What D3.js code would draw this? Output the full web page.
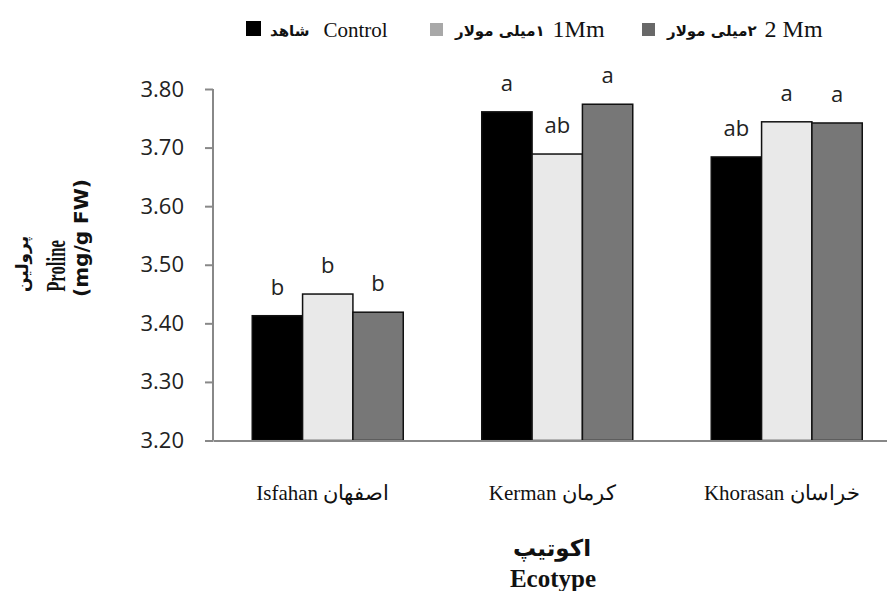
<!DOCTYPE html>
<html>
<head>
<meta charset="utf-8">
<title>Proline by ecotype</title>
<script src="https://cdn.jsdelivr.net/npm/d3@7"></script>
<style>
  html, body { margin: 0; padding: 0; background: #fff; }
  svg { display: block; }
</style>
</head>
<body>
<svg id="chart" width="887" height="591"></svg>
<script>
// data
var ecotypes = ['Isfahan', 'Kerman', 'Khorasan'];
var ecotypesFa = ['اصفهان', 'کرمان', 'خراسان'];
var series = ['control', 'mm1', 'mm2'];
var control = [3.413, 3.761, 3.684];
var mm1 = [3.450, 3.689, 3.744];
var mm2 = [3.419, 3.774, 3.742];
var letters = [['b', 'b', 'b'], ['a', 'ab', 'a'], ['ab', 'a', 'a']];
var yTicks = [3.20, 3.30, 3.40, 3.50, 3.60, 3.70, 3.80];

var fills = { control: '#000', mm1: '#e9e9e9', mm2: '#777' };
var legendFills = { control: '#000', mm1: '#a8a8a8', mm2: '#686868' };
var legendItems = [
  { key: 'control', fa: 'شاهد', en: 'Control' },
  { key: 'mm1', fa: '۱میلی مولار', en: '1Mm' },
  { key: 'mm2', fa: '۲میلی مولار', en: '2 Mm' }
];

var svg = d3.select('#chart');
// note: "top" is taken by window.top, so use other names
var plotLeft = 213, plotBottom = 440.5, plotTop = 89;
var step = 229.5;

var x = d3.scaleBand()
  .domain(ecotypes)
  .range([plotLeft, plotLeft + step * ecotypes.length])
  .paddingInner(0.342)
  .paddingOuter(0.171);

var xs = d3.scaleBand()
  .domain(series)
  .range([0, x.bandwidth()]);

var y = d3.scaleLinear()
  .domain([3.2, 3.8])
  .range([plotBottom, plotTop]);

var rows = ecotypes.map(function (e, i) {
  return { eco: e, vals: [control[i], mm1[i], mm2[i]] };
});

function cells(d, i) {
  return d.vals.map(function (v, j) { return { s: series[j], v: v, lab: letters[i][j] }; });
}

// bars
var groups = svg.selectAll('.grp')
  .data(rows)
  .enter().append('g')
  .attr('class', 'grp')
  .attr('transform', function (d) { return 'translate(' + x(d.eco) + ',0)'; });

groups.selectAll('rect')
  .data(cells)
  .enter().append('rect')
  .attr('x', function (d) { return xs(d.s); })
  .attr('y', function (d) { return y(d.v); })
  .attr('width', xs.bandwidth())
  .attr('height', function (d) { return plotBottom - y(d.v); })
  .attr('fill', function (d) { return fills[d.s]; })
  .attr('stroke', '#111')
  .attr('stroke-width', 1.5);

groups.selectAll('.lab')
  .data(cells)
  .enter().append('text')
  .attr('class', 'lab')
  .attr('x', function (d) { return xs(d.s) + xs.bandwidth() / 2; })
  .attr('y', function (d) { return y(d.v) - 21; })
  .attr('text-anchor', 'middle')
  .style('font-family', '"Open Sans", sans-serif')
  .style('font-size', '22px')
  .style('fill', '#222')
  .text(function (d) { return d.lab; });

// y axis
var yAxis = svg.append('g')
  .attr('transform', 'translate(' + plotLeft + ',0)')
  .call(d3.axisLeft(y).tickValues(yTicks).tickFormat(d3.format('.2f')).tickSize(8).tickPadding(21));
yAxis.select('.domain').attr('stroke', '#888').attr('stroke-width', 2).attr('d', 'M0,' + plotTop + 'V' + plotBottom);
yAxis.selectAll('.tick line').attr('stroke', '#888').attr('stroke-width', 2);
yAxis.selectAll('.tick text')
  .style('font-family', '"Open Sans", sans-serif')
  .style('font-size', '22px')
  .style('fill', '#222');

// x axis baseline
var xAxis = svg.append('g')
  .attr('transform', 'translate(0,' + plotBottom + ')')
  .call(d3.axisBottom(x).tickSize(0).tickFormat(''));
xAxis.select('.domain').attr('stroke', '#888').attr('stroke-width', 2);

// category labels
svg.selectAll('.cat')
  .data(ecotypes)
  .enter().append('text')
  .attr('class', 'cat')
  .attr('x', function (d) { return x(d) + x.bandwidth() / 2 - 5; })
  .attr('y', 500)
  .attr('text-anchor', 'middle')
  .style('font-family', '"Liberation Serif", serif')
  .style('font-size', '21px')
  .style('fill', '#111')
  .text(function (d, i) { return d + ' ' + ecotypesFa[i]; });

// x title
svg.append('text')
  .attr('x', 552).attr('y', 556)
  .attr('text-anchor', 'middle')
  .style('font-family', '"DejaVu Sans", sans-serif')
  .style('font-weight', 'bold')
  .style('font-size', '23px')
  .style('fill', '#111')
  .text('اکوتیپ');
svg.append('text')
  .attr('x', 553).attr('y', 587)
  .attr('text-anchor', 'middle')
  .style('font-family', '"Liberation Serif", serif')
  .style('font-weight', 'bold')
  .style('font-size', '25px')
  .style('fill', '#111')
  .text('Ecotype');

// y title, three rotated lines
svg.append('text')
  .attr('transform', 'translate(28,264) rotate(-90)')
  .attr('text-anchor', 'middle')
  .style('font-family', '"DejaVu Sans", sans-serif')
  .style('font-weight', 'bold')
  .style('font-size', '17px')
  .style('fill', '#111')
  .text('پرولین');
svg.append('text')
  .attr('transform', 'translate(65,266) rotate(-90) scale(0.62,1)')
  .attr('text-anchor', 'middle')
  .style('font-family', '"Liberation Serif", serif')
  .style('font-weight', 'bold')
  .style('font-size', '27px')
  .style('fill', '#111')
  .text('Proline');
svg.append('text')
  .attr('transform', 'translate(88,238) rotate(-90)')
  .attr('text-anchor', 'middle')
  .style('font-family', '"DejaVu Sans", sans-serif')
  .style('font-weight', 'bold')
  .style('font-size', '20px')
  .style('fill', '#111')
  .text('(mg/g FW)');

// legend: pieces laid out one after another
var legend = svg.append('g');
var starts = [246, 430, 642];
legendItems.forEach(function (it, i) {
  var cx = starts[i];
  var sz = i === 0 ? 15 : 13;
  legend.append('rect')
    .attr('x', cx).attr('y', 36 - sz)
    .attr('width', sz).attr('height', sz)
    .attr('fill', legendFills[it.key]);
  cx += sz + (i === 0 ? 9 : 12);
  var fa = legend.append('text')
    .attr('y', 36)
    .attr('direction', 'rtl')
    .attr('text-anchor', 'middle')
    .style('font-family', '"DejaVu Sans", sans-serif')
    .style('font-weight', 'bold')
    .style('font-size', '15px')
    .style('fill', '#111')
    .text(it.fa);
  var w = fa.node().getComputedTextLength();
  fa.attr('x', cx + w / 2);
  cx += w + (i === 0 ? 14 : 8);
  legend.append('text')
    .attr('x', cx).attr('y', 37)
    .style('font-family', '"Liberation Serif", serif')
    .style('font-size', i === 0 ? '21px' : '24px')
    .style('fill', '#111')
    .text(it.en);
});
</script>
</body>
</html>
